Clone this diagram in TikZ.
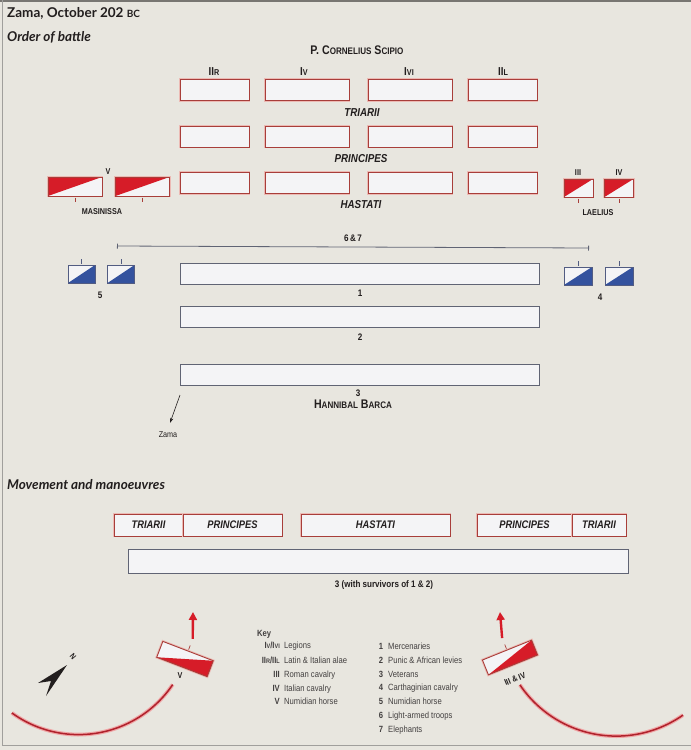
\documentclass[tikz,border=0pt]{standalone}
\usepackage{fontspec}
\setmainfont{Liberation Sans}
\newfontfamily\headfont{Lato}
\newfontfamily\condfont[FakeStretch=0.85]{Liberation Sans}
\usepackage{tikz}
\usetikzlibrary{arrows.meta, positioning, calc}
\definecolor{mypaper}{RGB}{232,230,223}
\definecolor{myboxfill}{RGB}{244,244,246}
\definecolor{mydarkred}{RGB}{168,62,58}
\definecolor{myglow}{RGB}{236,186,180}
\definecolor{myred}{RGB}{214,28,40}
\definecolor{myblue}{RGB}{52,82,158}
\definecolor{mybluerim}{RGB}{82,92,130}
\definecolor{myslate}{RGB}{96,100,116}
\definecolor{mydark}{RGB}{34,30,30}
\definecolor{myframe}{RGB}{120,118,114}
\definecolor{myarc}{RGB}{176,34,44}
\definecolor{myarcglow}{RGB}{240,165,165}
\newcommand{\ksm}[1]{{\fontsize{6.5}{7}\selectfont #1}}
\tikzset{
  legion/.style={rectangle, draw=mydarkred, fill=myboxfill, minimum height=21pt,
    inner sep=0pt, line width=0.9pt, preaction={draw=myglow, line width=2.6pt}},
  movebox/.style={legion, minimum height=22pt, outer sep=0pt,
    font=\condfont\bfseries\itshape\fontsize{11}{12}\selectfont, text=mydark},
  carthline/.style={rectangle, draw=myslate, fill=myboxfill, minimum width=359pt,
    minimum height=21pt, inner sep=0pt, line width=0.9pt},
  redhorse/.style={rectangle, fill=myboxfill, inner sep=0pt, outer sep=0pt,
    preaction={draw=myglow, line width=2.6pt}},
  bluehorse/.style={rectangle, fill=myboxfill, inner sep=0pt, outer sep=0pt},
  redrim/.style={draw=mydarkred, line width=0.9pt},
  bluerim/.style={draw=mybluerim, line width=0.9pt},
  unittick/.style={line width=0.7pt},
  rowlbl/.style={font=\condfont\bfseries\itshape\fontsize{11.5}{12}\selectfont, text=mydark},
  unitlbl/.style={font=\condfont\bfseries\fontsize{8.5}{9}\selectfont, text=mydark},
  numlbl/.style={font=\condfont\bfseries\fontsize{9.5}{10}\selectfont, text=mydark},
  leaderlbl/.style={font=\condfont\bfseries\fontsize{12.5}{13}\selectfont, text=mydark},
  leglbl/.style={font=\condfont\bfseries\fontsize{11.5}{12}\selectfont, text=mydark},
  headtxt/.style={anchor=west, inner sep=0pt, text=mydark},
  keytext/.style={font=\condfont\fontsize{9}{10}\selectfont, anchor=west, inner sep=0pt,
    text height=6.5pt, text depth=1.5pt, text=mydark!85},
  keysym/.style={keytext, font=\condfont\bfseries\fontsize{9}{10}\selectfont, anchor=east},
  keynum/.style={keysym, anchor=center},
  spanline/.style={draw=myslate, line width=0.8pt, arrows={Bar[width=5pt]-Bar[width=5pt]}},
  zamaarrow/.style={draw=mydark, line width=0.6pt, -{Stealth[length=5pt, width=3.5pt]},
    shorten >=6pt},
  movearrow/.style={draw=myred, line width=2.4pt, -{Triangle[length=8pt, width=8pt]}},
  arcline/.style={draw=myarc, line width=1.5pt, preaction={draw=myarcglow, line width=3.8pt}}
}
\begin{document}
\begin{tikzpicture}[x=1pt, y=-1pt]
  % Paper
  \fill[mypaper] (0,0) rectangle (691,750);
  \useasboundingbox (0,0) rectangle (691,750);
  \draw[myframe, line width=2pt] (0,1) -- (691,1);
  \draw[myframe!70, line width=0.8pt] (2,0) -- (2,745.5) -- (691,745.5);

  % Headings
  \node[headtxt, font=\headfont\bfseries\fontsize{13.5}{15}\selectfont] (title) at (7,13)
    {Zama, October 202 {\fontsize{10}{11}\selectfont BC}};
  \node[headtxt, font=\headfont\bfseries\itshape\fontsize{13.5}{15}\selectfont] (orderhd) at (7,37)
    {Order of battle};
  \node[headtxt, font=\headfont\bfseries\itshape\fontsize{13.5}{15}\selectfont] (movehd) at (7,485)
    {Movement and manoeuvres};

  % Roman legions
  \node[leaderlbl] (scipio) at (357,50)
    {P. C{\fontsize{9.5}{10}\selectfont ORNELIUS} S{\fontsize{9.5}{10}\selectfont CIPIO}};
  \foreach \n/\x/\w in {1/214.5/69, 2/307/84, 3/410/84, 4/502.5/69} {
    \node[legion, minimum width=\w pt] (tr\n) at (\x,90) {};
    \node[legion, minimum width=\w pt] (pr\n) at (\x,136.5) {};
    \node[legion, minimum width=\w pt] (ha\n) at (\x,183) {};
  }
  \node[leglbl] (legIIR) at (214,72) {II{\fontsize{8.5}{9}\selectfont R}};
  \node[leglbl] (legIV) at (304,72) {I{\fontsize{8.5}{9}\selectfont V}};
  \node[leglbl] (legIVI) at (409,72) {I{\fontsize{8.5}{9}\selectfont VI}};
  \node[leglbl] (legIIL) at (503,72) {II{\fontsize{8.5}{9}\selectfont L}};
  \node[rowlbl] (triarii) at (362,113) {TRIARII};
  \node[rowlbl] (principes) at (361,159) {PRINCIPES};
  \node[rowlbl] (hastati) at (361,205) {HASTATI};

  % Cavalry squadrons
  \node[redhorse, minimum width=54pt, minimum height=19pt] (mas1) at (75,186.5) {};
  \node[redhorse, minimum width=54pt, minimum height=19pt] (mas2) at (142.5,186.5) {};
  \node[redhorse, minimum width=29pt, minimum height=18pt] (lae1) at (578.5,188) {};
  \node[redhorse, minimum width=29pt, minimum height=18pt] (lae2) at (619,188) {};
  \node[redhorse, minimum width=54pt, minimum height=17pt, rotate=-21] (masmv) at (185,659) {};
  \node[redhorse, minimum width=53pt, minimum height=16pt, rotate=22] (laemv) at (510,657.5) {};
  \node[bluehorse, minimum width=27pt, minimum height=18pt] (num1) at (81.5,274) {};
  \node[bluehorse, minimum width=27pt, minimum height=18pt] (num2) at (121,274) {};
  \node[bluehorse, minimum width=28pt, minimum height=18pt] (car1) at (578,276) {};
  \node[bluehorse, minimum width=28pt, minimum height=18pt] (car2) at (619,276) {};
  \foreach \u in {mas1,mas2,lae1,lae2}
    \fill[myred] (\u.south west) -- (\u.north west) -- (\u.north east) -- cycle;
  \foreach \u in {masmv,laemv}
    \fill[myred] (\u.south west) -- (\u.south east) -- (\u.north east) -- cycle;
  \foreach \u in {num1,num2,car1,car2}
    \fill[myblue] (\u.south west) -- (\u.south east) -- (\u.north east) -- cycle;
  \foreach \u in {mas1,mas2,lae1,lae2,masmv,laemv}
    \draw[redrim] (\u.north west) -- (\u.north east) -- (\u.south east) -- (\u.south west) -- cycle;
  \foreach \u in {num1,num2,car1,car2}
    \draw[bluerim] (\u.north west) -- (\u.north east) -- (\u.south east) -- (\u.south west) -- cycle;
  \foreach \u in {mas1,mas2,lae1,lae2}
    \draw[unittick, mydarkred] ($(\u.south)!-1.5pt!(\u.center)$) -- ($(\u.south)!-6pt!(\u.center)$);
  \foreach \u in {masmv,laemv}
    \draw[unittick, mydarkred] ($(\u.north)!-1.5pt!(\u.center)$) -- ($(\u.north)!-6pt!(\u.center)$);
  \foreach \u in {num1,num2,car1,car2}
    \draw[unittick, mybluerim] ($(\u.north)!-1.5pt!(\u.center)$) -- ($(\u.north)!-6pt!(\u.center)$);
  \node[unitlbl] (lblV) at (108,172) {V};
  \node[unitlbl] (masinissa) at (102,212) {MASINISSA};
  \node[unitlbl] (lblIII) at (578,173) {III};
  \node[unitlbl] (lblIV) at (619,173) {IV};
  \node[unitlbl] (laelius) at (598,213) {LAELIUS};
  \node[numlbl] (lbl5) at (100,295) {5};
  \node[numlbl] (lbl4) at (600,297) {4};

  % Carthaginian lines
  \coordinate (lt67) at (117,246);
  \coordinate (rt67) at (589,248);
  \draw[spanline] (lt67) -- (rt67);
  \node[numlbl] (lbl67) at (353,238.5) {6\,\&\,7};
  \node[carthline] (line1) at (359.5,273.5) {};
  \node[carthline] (line2) at (359.5,317) {};
  \node[carthline] (line3) at (359.5,375) {};
  \node[numlbl] (lbl1) at (360,293) {1};
  \node[numlbl] (lbl2) at (360,337) {2};
  \node[numlbl] (lbl3) at (358,393) {3};
  \node[leaderlbl] (hannibal) at (353,404)
    {H{\fontsize{9.5}{10}\selectfont ANNIBAL} B{\fontsize{9.5}{10}\selectfont ARCA}};
  \coordinate (zamafrom) at (180,395);
  \node[font=\condfont\fontsize{8.5}{9}\selectfont, text=mydark] (zama) at (168,435) {Zama};
  \draw[zamaarrow] (zamafrom) -- (zama.north);

  % Movement and manoeuvres
  \node[movebox, minimum width=69pt] (mvtl) at (148.5,525) {TRIARII};
  \node[movebox, minimum width=99pt, right=0pt of mvtl] (mvpl) {PRINCIPES};
  \node[movebox, minimum width=149pt] (mvha) at (375.5,525) {HASTATI};
  \node[movebox, minimum width=95pt] (mvpr) at (524.5,525) {PRINCIPES};
  \node[movebox, minimum width=54pt, right=0pt of mvpr] (mvtr) {TRIARII};
  \node[carthline, minimum width=500pt, minimum height=24pt] (mvline) at (378,561.5) {};
  \node[numlbl] (survivors) at (384,585) {3 (with survivors of 1 \& 2)};

  % Outflanking cavalry
  \coordinate (arcL) at (78.6,621.1);
  \draw[arcline] (arcL) ++(126:113.5) arc[start angle=126, end angle=34, radius=113.5];
  \coordinate (arcR) at (616.3,619.8);
  \draw[arcline] (arcR) ++(146:116.3) arc[start angle=146, end angle=55, radius=116.3];
  \coordinate (masgo) at (193,612);
  \coordinate (laego) at (500,612);
  \draw[movearrow] ($(masmv.north)!-13pt!(masmv.center)$) -- (masgo);
  \draw[movearrow] ($(laemv.north)!-13pt!(laemv.center)$) -- (laego);
  \node[unitlbl] (lblmv) at (180,676) {V};
  \node[unitlbl, rotate=22] (lbllae) at (515,679) {III \& IV};

  % North point
  \fill[mydark] (67,665) -- (38,683) -- (51,681) -- (46,696) -- cycle;
  \node[font=\condfont\bfseries\fontsize{8}{8}\selectfont, text=mydark, rotate=-50] (north) at (73,657) {N};

  % Key
  \node[keysym, anchor=west] (key) at (257,634) {Key};
  \foreach \y/\s/\t in {646/{I\ksm{V}/I\ksm{VI}}/Legions,
      661/{II\ksm{R}/II\ksm{L}}/Latin \& Italian alae,
      674.5/III/Roman cavalry, 688.5/IV/Italian cavalry, 702/V/Numidian horse} {
    \node[keysym] (ks\y) at (280,\y) {\s};
    \node[keytext] (kt\y) at (284,\y) {\t};
  }
  \foreach \i/\t in {1/Mercenaries, 2/Punic \& African levies, 3/Veterans,
      4/Carthaginian cavalry, 5/Numidian horse, 6/Light-armed troops, 7/Elephants} {
    \node[keynum] (kn\i) at (381,{633.3+13.75*\i}) {\i};
    \node[keytext] (kc\i) at (388,{633.3+13.75*\i}) {\t};
  }
\end{tikzpicture}
\end{document}
